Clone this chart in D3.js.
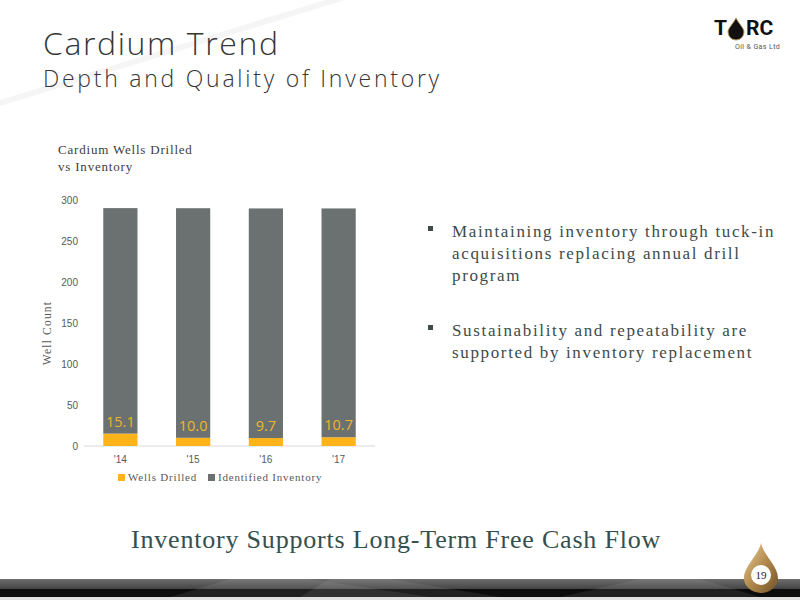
<!DOCTYPE html>
<html>
<head>
<meta charset="utf-8">
<script src="https://cdn.jsdelivr.net/npm/d3@7"></script>
<style>
  html, body { margin: 0; padding: 0; background: #fff; }
  svg { display: block; }
</style>
</head>
<body>
<svg id="chart" width="800" height="600"></svg>
<script>
// ---- data ----
const categories = ["'14", "'15", "'16", "'17"];
const wellsDrilled = [15.1, 10.0, 9.7, 10.7];
const identifiedInventory = [275, 280, 280, 279];
const yTicks = [0, 50, 100, 150, 200, 250, 300];
const seriesNames = ["Wells Drilled", "Identified Inventory"];
const seriesColors = ["#FDB41A", "#6B7071"];
const bullets = [
  ["Maintaining inventory through tuck-in", "acquisitions replacing annual drill", "program"],
  ["Sustainability and repeatability are", "supported by inventory replacement"]
];

const svg = d3.select("#chart");

// background streak
svg.append("path")
  .attr("d", "M0,100 L325,0 L345,0 L0,106 Z")
  .attr("fill", "#f5f5f5");

// titles
svg.append("text").attr("x", 43).attr("y", 55)
  .attr("font-family", "Open Sans, sans-serif").attr("font-weight", 300)
  .attr("font-size", 32).attr("fill", "#363636").attr("letter-spacing", 1.6)
  .text("Cardium Trend");
svg.append("text").attr("x", 43).attr("y", 87)
  .attr("font-family", "Open Sans, sans-serif").attr("font-weight", 300)
  .attr("font-size", 23).attr("fill", "#363636").attr("letter-spacing", 2.75)
  .text("Depth and Quality of Inventory");

// logo
const logo = svg.append("g").attr("transform", "translate(714,15)");
logo.append("text").attr("x", 0).attr("y", 20)
  .attr("font-family", "Roboto, sans-serif").attr("font-weight", 700).attr("font-size", 21)
  .attr("fill", "#111").text("T");
logo.append("path")
  .attr("d", "M22,3 C25,9 30,13 30,17 A8,8 0 0 1 14,17 C14,13 19,9 22,3 Z")
  .attr("fill", "#111").attr("stroke", "#b9975b").attr("stroke-width", 1);
logo.append("text").attr("x", 32).attr("y", 20)
  .attr("font-family", "Roboto, sans-serif").attr("font-weight", 700).attr("font-size", 21)
  .attr("fill", "#111").text("RC");
logo.append("text").attr("x", 21).attr("y", 34)
  .attr("font-family", "Roboto, sans-serif").attr("font-size", 7).attr("fill", "#555")
  .attr("letter-spacing", 0.4).text("Oil & Gas Ltd");

// chart title
const ct = svg.append("text").attr("font-family", "Liberation Serif, serif")
  .attr("font-size", 13).attr("fill", "#404040").attr("letter-spacing", 0.8);
ct.append("tspan").attr("x", 58).attr("y", 154).text("Cardium Wells Drilled");
ct.append("tspan").attr("x", 58).attr("y", 171).text("vs Inventory");

// scales
const x = d3.scaleBand().domain(categories).range([84, 375])
  .paddingInner(0.53).paddingOuter(0.265);
const y = d3.scaleLinear().domain([0, 300]).range([446, 200]);

const table = categories.map((c, i) => ({
  cat: c, "Wells Drilled": wellsDrilled[i], "Identified Inventory": identifiedInventory[i]
}));
const stacked = d3.stack().keys(seriesNames)(table);

// y axis
const yAxis = svg.append("g").attr("transform", "translate(78,0)")
  .call(d3.axisLeft(y).tickValues(yTicks).tickSize(0).tickPadding(0));
yAxis.select(".domain").remove();
yAxis.selectAll("text").attr("font-family", "Liberation Sans, Arial, sans-serif")
  .attr("font-size", 10).attr("fill", "#595959").attr("dy", "0.32em");

// baseline
svg.append("line").attr("x1", 84).attr("x2", 375)
  .attr("y1", y(0)).attr("y2", y(0)).attr("stroke", "#d9d9d9").attr("stroke-width", 1);

// bars
stacked.forEach((s, si) => {
  svg.append("g").selectAll("rect").data(s).join("rect")
    .attr("x", d => x(d.data.cat))
    .attr("width", x.bandwidth())
    .attr("y", d => y(d[1]))
    .attr("height", d => y(d[0]) - y(d[1]))
    .attr("fill", seriesColors[si]);
});

// data labels
svg.append("g").selectAll("text").data(stacked[0]).join("text")
  .attr("x", d => x(d.data.cat) + x.bandwidth() / 2)
  .attr("y", d => y(d[1]) - 7)
  .attr("text-anchor", "middle")
  .attr("font-family", "Open Sans, sans-serif").attr("font-weight", 500)
  .attr("font-size", 14.5).attr("fill", "#EDB62A")
  .text(d => d.data["Wells Drilled"].toFixed(1));

// x axis
const xAxis = svg.append("g").attr("transform", "translate(0,456)")
  .call(d3.axisBottom(x).tickSize(0).tickPadding(0));
xAxis.select(".domain").remove();
xAxis.selectAll("text").attr("font-family", "Liberation Sans, Arial, sans-serif")
  .attr("font-size", 10).attr("fill", "#595959").attr("dy", "0.71em");

// y axis title
svg.append("text").attr("transform", "translate(51,333) rotate(-90)")
  .attr("text-anchor", "middle").attr("font-family", "Liberation Serif, serif")
  .attr("font-size", 11.5).attr("fill", "#595959").attr("letter-spacing", 1.2)
  .text("Well Count");

// legend
const legendX = [118, 208];
seriesNames.forEach((n, i) => {
  svg.append("rect").attr("x", legendX[i]).attr("y", 474).attr("width", 7).attr("height", 7)
    .attr("fill", seriesColors[i]);
  svg.append("text").attr("x", legendX[i] + 10).attr("y", 481)
    .attr("font-family", "Liberation Serif, serif").attr("font-size", 11)
    .attr("fill", "#595959").attr("letter-spacing", 0.8).text(n);
});

// bullets
const bulletTop = [232, 331];
bullets.forEach((lines, bi) => {
  svg.append("rect").attr("x", 428).attr("y", bulletTop[bi] - 6).attr("width", 5).attr("height", 5)
    .attr("fill", "#3f4a4a");
  const t = svg.append("text").attr("font-family", "Liberation Serif, serif")
    .attr("font-size", 17).attr("fill", "#3d4b4b").attr("letter-spacing", 1.65);
  lines.forEach((l, li) => {
    t.append("tspan").attr("x", 452).attr("y", bulletTop[bi] + 5 + li * 22).text(l);
  });
});

// tagline
svg.append("text").attr("x", 131).attr("y", 548)
  .attr("font-family", "Liberation Serif, serif").attr("font-size", 26)
  .attr("fill", "#34504e").attr("letter-spacing", 0.8)
  .text("Inventory Supports Long-Term Free Cash Flow");

// bottom band
const defs = svg.append("defs");
const g1 = defs.append("linearGradient").attr("id", "band").attr("x1", 0).attr("x2", 0).attr("y1", 0).attr("y2", 1);
g1.append("stop").attr("offset", "0%").attr("stop-color", "#6e6e6e");
g1.append("stop").attr("offset", "100%").attr("stop-color", "#444");
svg.append("rect").attr("x", 0).attr("y", 579).attr("width", 800).attr("height", 10).attr("fill", "url(#band)");
svg.append("rect").attr("x", 0).attr("y", 589).attr("width", 800).attr("height", 8).attr("fill", "#0c0c0c");
[[170, 230, 260], [300, 330, 200], [560, 640, 200]].forEach(([a, b, w]) => {
  svg.append("path").attr("d", `M${a},597 L${b},579 L${b + w * 0.3},579 L${a + w},597 Z`)
    .attr("fill", "#ffffff").attr("opacity", 0.08);
});
svg.append("rect").attr("x", 0).attr("y", 597).attr("width", 800).attr("height", 3).attr("fill", "#e0e0e0");

// page badge
const g2 = defs.append("linearGradient").attr("id", "gold").attr("x1", 0).attr("x2", 1).attr("y1", 0).attr("y2", 1);
g2.append("stop").attr("offset", "0%").attr("stop-color", "#e9d3a4");
g2.append("stop").attr("offset", "50%").attr("stop-color", "#b48a4c");
g2.append("stop").attr("offset", "100%").attr("stop-color", "#6f5228");
svg.append("path")
  .attr("d", "M761,543 C764,556 778,566 778,578 A17,15 0 0 1 744,578 C744,566 758,556 761,543 Z")
  .attr("fill", "url(#gold)");
svg.append("circle").attr("cx", 761).attr("cy", 575).attr("r", 10).attr("fill", "#fff");
svg.append("text").attr("x", 761).attr("y", 579).attr("text-anchor", "middle")
  .attr("font-family", "Liberation Serif, serif").attr("font-size", 11).attr("fill", "#222")
  .text("19");
</script>
</body>
</html>
